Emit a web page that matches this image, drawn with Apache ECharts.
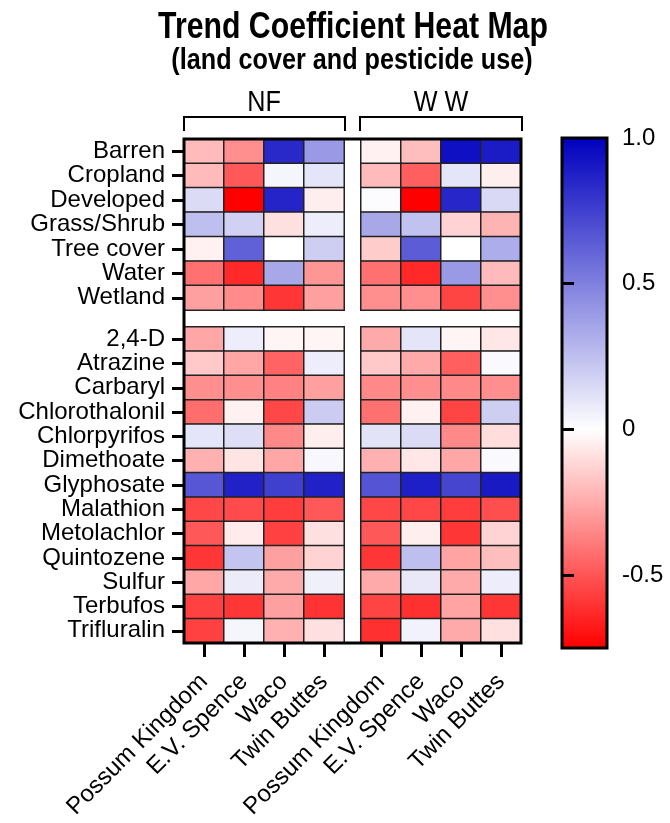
<!DOCTYPE html>
<html>
<head>
<meta charset="utf-8">
<script src="https://cdn.jsdelivr.net/npm/echarts@6/dist/echarts.min.js"></script>
<style>
  html, body { margin: 0; padding: 0; background: #fff; }
  #chart { width: 670px; height: 823px; }
</style>
</head>
<body>
<div id="chart"></div>
<script>
// reservoirs (columns), same order in both basins
const sites = ['Possum Kingdom', 'E.V. Spence', 'Waco', 'Twin Buttes'];
const landCover = ['Barren', 'Cropland', 'Developed', 'Grass/Shrub', 'Tree cover', 'Water', 'Wetland'];
const pesticides = ['2,4-D', 'Atrazine', 'Carbaryl', 'Chlorothalonil', 'Chlorpyrifos', 'Dimethoate',
    'Glyphosate', 'Malathion', 'Metolachlor', 'Quintozene', 'Sulfur', 'Terbufos', 'Trifluralin'];

// trend coefficients, one row per land cover / pesticide
const nfLand = [
    [-0.20, -0.33, 0.84, 0.40],
    [-0.20, -0.49, 0.04, 0.10],
    [0.14, -0.75, 0.86, -0.05],
    [0.25, 0.18, -0.09, 0.07],
    [-0.04, 0.62, 0.00, 0.19],
    [-0.42, -0.63, 0.34, -0.31],
    [-0.28, -0.34, -0.59, -0.28]
];
const wwLand = [
    [-0.04, -0.19, 0.94, 0.89],
    [-0.20, -0.47, 0.10, -0.05],
    [0.01, -0.75, 0.85, 0.15],
    [0.34, 0.24, -0.13, -0.22],
    [-0.15, 0.64, 0.00, 0.32],
    [-0.42, -0.63, 0.40, -0.20],
    [-0.33, -0.33, -0.55, -0.33]
];
const nfPest = [
    [-0.26, 0.07, -0.03, -0.03],
    [-0.16, -0.26, -0.46, 0.07],
    [-0.33, -0.33, -0.37, -0.28],
    [-0.43, -0.04, -0.54, 0.20],
    [0.10, 0.13, -0.35, -0.05],
    [-0.23, -0.08, -0.26, 0.03],
    [0.66, 0.87, 0.75, 0.87],
    [-0.54, -0.53, -0.57, -0.49],
    [-0.49, -0.06, -0.56, -0.09],
    [-0.59, 0.23, -0.28, -0.13],
    [-0.26, 0.08, -0.25, 0.06],
    [-0.56, -0.59, -0.28, -0.60],
    [-0.56, 0.04, -0.23, -0.09]
];
const wwPest = [
    [-0.25, 0.10, -0.03, -0.07],
    [-0.16, -0.25, -0.47, 0.02],
    [-0.35, -0.33, -0.35, -0.33],
    [-0.42, -0.04, -0.55, 0.19],
    [0.11, 0.14, -0.35, -0.10],
    [-0.23, -0.07, -0.26, 0.02],
    [0.67, 0.88, 0.73, 0.90],
    [-0.54, -0.54, -0.57, -0.52],
    [-0.49, -0.05, -0.59, -0.13],
    [-0.59, 0.25, -0.27, -0.19],
    [-0.25, 0.09, -0.25, 0.07],
    [-0.55, -0.61, -0.27, -0.59],
    [-0.61, 0.05, -0.25, -0.09]
];
const scaleMin = -0.75;
const scaleMax = 1.0;
const scaleLabels = [1.0, 0.5, 0, -0.5];
const scaleTicks = [0.5, 0, -0.5];

const FONT = '"Liberation Sans", Arial, Helvetica, sans-serif';
// no narrow face installed, so headings are squeezed a little instead
const SQUEEZE = 0.84;

function toCells(rows) {
    let out = [];
    rows.forEach((row, i) => {
        row.forEach((v, j) => out.push([j, i, v]));
    });
    return out;
}

// panel layout
const nfLeft = 184, wwLeft = 361, panelW = 160;
const landTop = 139, landH = 171, pestTop = 327, pestH = 316;
const barLeft = 562, barTop = 138, barW = 45, barH = 510, barTick = 6;

const tickStyle = { color: '#000', width: 3 };

function yAxisFor(grid, cats, visible) {
    return {
        gridIndex: grid, type: 'category', data: cats, inverse: true, show: visible, z: 12,
        axisLine: { show: false },
        axisTick: { show: true, alignWithLabel: true, interval: 0, length: 12, lineStyle: tickStyle },
        axisLabel: { interval: 0, fontSize: 24, color: '#000', fontFamily: FONT, margin: 19 }
    };
}
function xAxisFor(grid, visible) {
    return {
        gridIndex: grid, type: 'category', data: sites, show: visible, z: 12,
        axisLine: { show: false },
        axisTick: { show: true, alignWithLabel: true, interval: 0, length: 14, lineStyle: tickStyle },
        axisLabel: { interval: 0, fontSize: 24, color: '#000', fontFamily: FONT, rotate: 45, margin: 35 }
    };
}
function scaleAxis(pos, withLabels) {
    // lives on a grid inset by barTick, so its outward ticks end on the bar's frame
    return {
        gridIndex: 6, type: 'value', min: scaleMin, max: scaleMax, position: pos, z: 12,
        axisLine: { show: false }, splitLine: { show: false },
        axisTick: { show: true, length: barTick, lineStyle: tickStyle, customValues: scaleTicks },
        axisLabel: {
            show: withLabels, customValues: scaleLabels, fontSize: 24, color: '#000', fontFamily: FONT, margin: 21,
            formatter: function (v) { return v === 1 ? '1.0' : String(v); }
        }
    };
}
function heat(grid, rows) {
    return {
        type: 'heatmap', xAxisIndex: grid, yAxisIndex: grid, data: toCells(rows),
        itemStyle: { borderColor: '#222', borderWidth: 1.5 },
        emphasis: { disabled: true }
    };
}
function heading(text, x, y, size, bold) {
    return {
        type: 'text', x: x, y: y, scaleX: SQUEEZE, originX: 0,
        style: {
            text: text, fontSize: size, fontWeight: bold ? 'bold' : 'normal', fontFamily: FONT,
            fill: '#000', align: 'center', verticalAlign: 'middle'
        }
    };
}

var myChart = echarts.init(document.getElementById('chart'));
var option = {
    backgroundColor: '#fff',
    animation: false,
    grid: [
        { left: nfLeft, top: landTop, width: panelW, height: landH },
        { left: wwLeft, top: landTop, width: panelW, height: landH },
        { left: nfLeft, top: pestTop, width: panelW, height: pestH },
        { left: wwLeft, top: pestTop, width: panelW, height: pestH },
        // outer frame round all four panels
        {
            left: nfLeft, top: landTop, width: wwLeft + panelW - nfLeft, height: pestTop + pestH - landTop,
            show: true, borderColor: '#000', borderWidth: 3, backgroundColor: 'transparent', z: 10
        },
        // frame of the colour scale
        {
            left: barLeft, top: barTop, width: barW, height: barH,
            show: true, borderColor: '#000', borderWidth: 3, backgroundColor: 'transparent', z: 10
        },
        // scale ticks and labels
        { left: barLeft + barTick, top: barTop, width: barW - 2 * barTick, height: barH }
    ],
    xAxis: [
        xAxisFor(0, false), xAxisFor(1, false), xAxisFor(2, true), xAxisFor(3, true),
        { gridIndex: 4, type: 'value', show: false },
        { gridIndex: 5, type: 'value', show: false },
        { gridIndex: 6, type: 'value', show: false }
    ],
    yAxis: [
        yAxisFor(0, landCover, true), yAxisFor(1, landCover, false),
        yAxisFor(2, pesticides, true), yAxisFor(3, pesticides, false),
        { gridIndex: 4, type: 'value', show: false },
        { gridIndex: 5, type: 'value', show: false },
        scaleAxis('right', true),
        scaleAxis('left', false)
    ],
    visualMap: {
        type: 'continuous', min: scaleMin, max: scaleMax, seriesIndex: [0, 1, 2, 3],
        calculable: false, hoverLink: false, orient: 'vertical',
        left: barLeft, top: barTop, itemWidth: barW, itemHeight: barH, padding: 0,
        inRange: { color: ['#FF0000', '#FF5555', '#FFAAAA', '#FFFFFF', '#BFBFEF', '#8080DF', '#4040CF', '#0000BF'] }
    },
    graphic: [
        heading('Trend Coefficient Heat Map', 353, 28, 36, true),
        heading('(land cover and pesticide use)', 352, 61, 30, true),
        heading('NF', nfLeft + panelW / 2, 103, 30, false),
        heading('W W', wwLeft + panelW / 2, 103, 30, false),
        {
            type: 'polyline', shape: { points: [[nfLeft, 131], [nfLeft, 117], [nfLeft + panelW + 1, 117], [nfLeft + panelW + 1, 131]] },
            style: { stroke: '#000', lineWidth: 2, fill: null }
        },
        {
            type: 'polyline', shape: { points: [[wwLeft - 1, 131], [wwLeft - 1, 117], [wwLeft + panelW + 1, 117], [wwLeft + panelW + 1, 131]] },
            style: { stroke: '#000', lineWidth: 2, fill: null }
        }
    ],
    series: [heat(0, nfLand), heat(1, wwLand), heat(2, nfPest), heat(3, wwPest)]
};
myChart.setOption(option);
</script>
</body>
</html>
